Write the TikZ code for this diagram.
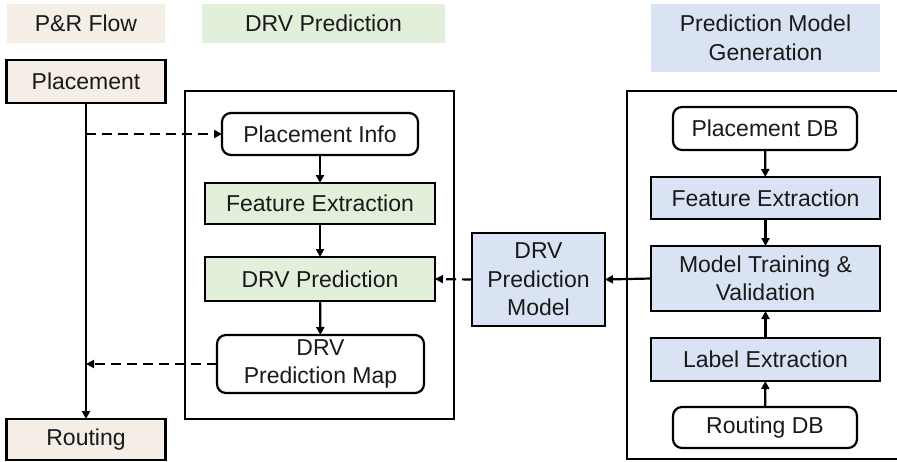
\documentclass[tikz,border=0pt]{standalone}
\usepackage{fontspec}
\setmainfont{Liberation Sans}
\usetikzlibrary{arrows.meta}
\definecolor{beige}{HTML}{F4EEE7}
\definecolor{lgreen}{HTML}{E2EFDA}
\definecolor{lblue}{HTML}{DAE3F3}
\definecolor{txt}{HTML}{1A1A1A}
\begin{document}
\begin{tikzpicture}[x=1pt,y=-1pt,
  font=\fontsize{23}{28.5}\selectfont,
  every node/.style={inner sep=0pt,outer sep=0pt,align=center,text=txt},
  sq/.style={draw=black,line width=2.2pt},
  rnd/.style={draw=black,line width=2.2pt,rounded corners=9pt,fill=white},
  frame/.style={draw=black,line width=2.2pt},
  arr/.style={line width=2.2pt,-{Triangle[length=8pt,width=8pt]}},
  darr/.style={arr,dash pattern=on 10pt off 6pt}]
\useasboundingbox (0,0) rectangle (897,461);
% headers
\path[fill=beige] (7,4) rectangle (165,43);
\node (h1) at (86,23.5) {P\&R Flow};
\path[fill=lgreen] (202,4) rectangle (445,43);
\node (h2) at (323.5,23.5) {DRV Prediction};
\path[fill=lblue] (651,4) rectangle (880,72);
\node (h3) at (765.5,38) {Prediction Model\\Generation};
% frames
\draw[frame] (185,91) rectangle (454,419);
\draw[frame] (897,91) -- (627,91) -- (627,459) -- (897,459);
% P&R flow
\node[sq,fill=beige,minimum width=159pt,minimum height=43pt] (plc) at (86,81.5) {Placement};
\node[sq,fill=beige,minimum width=159pt,minimum height=41pt] (rte) at (86,439.5) {Routing};
\draw[arr] (plc.south) -- (rte.north);
% DRV prediction
\node[rnd,minimum width=196pt,minimum height=42pt] (pi) at (320,134) {Placement Info};
\node[sq,fill=lgreen,minimum width=230pt,minimum height=41pt] (fe) at (320,203.5) {Feature Extraction};
\node[sq,fill=lgreen,minimum width=230pt,minimum height=44pt] (dp) at (320,279) {DRV Prediction};
\node[rnd,minimum width=207pt,minimum height=58pt] (map) at (320.5,364) {DRV\\Prediction Map};
\draw[arr] (pi) -- (fe);
\draw[arr] (fe) -- (dp);
\draw[arr] (dp) -- (map);
\coordinate (c1) at (86,134);
\coordinate (c2) at (86,364);
\draw[darr] (c1) -- (pi.west);
\draw[darr] (map.west) -- (c2);
% model
\node[sq,fill=lblue,minimum width=133pt,minimum height=93pt] (mdl) at (538.5,279.5) {DRV\\Prediction\\Model};
\draw[darr] (mdl.west) -- (dp.east);
% model generation
\node[rnd,minimum width=184pt,minimum height=43pt] (pdb) at (765,128.5) {Placement DB};
\node[sq,fill=lblue,minimum width=229pt,minimum height=42pt] (fe2) at (765.5,198) {Feature Extraction};
\node[sq,fill=lblue,minimum width=229pt,minimum height=65pt] (mt) at (765.5,278.5) {Model Training \&\\Validation};
\node[sq,fill=lblue,minimum width=229pt,minimum height=43pt] (le) at (765.5,359.5) {Label Extraction};
\node[rnd,minimum width=184pt,minimum height=41pt] (rdb) at (765,427.5) {Routing DB};
\draw[arr] (pdb) -- (fe2);
\draw[arr] (fe2) -- (mt);
\draw[arr] (le) -- (mt);
\draw[arr] (rdb) -- (le);
\draw[arr] (mt.west) -- (mdl.east);
\end{tikzpicture}
\end{document}
